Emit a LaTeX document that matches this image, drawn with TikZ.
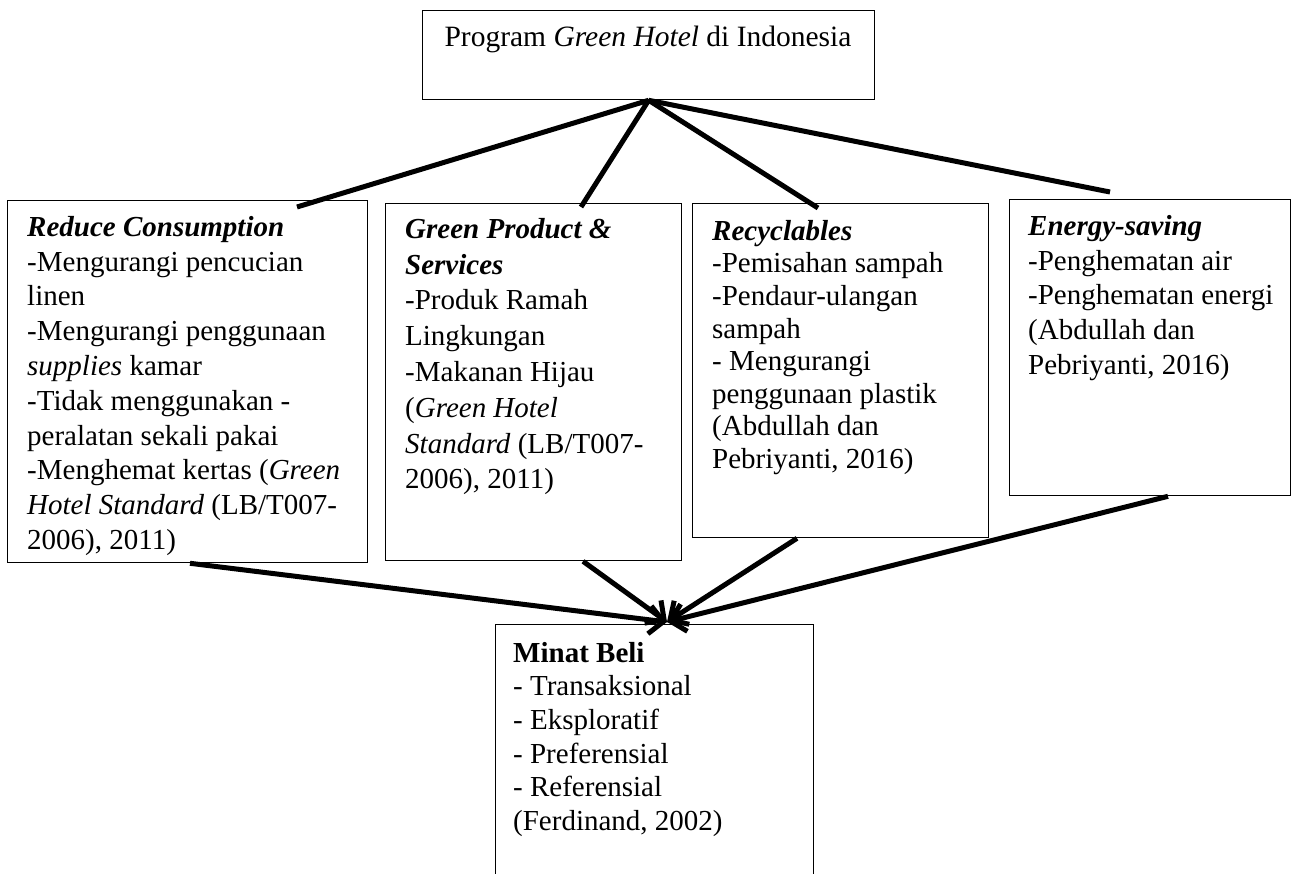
\documentclass[tikz,border=0pt]{standalone}
\usepackage{fontspec}
\setmainfont{Liberation Serif}
\usetikzlibrary{arrows.meta,calc}
\begin{document}
\begin{tikzpicture}[x=1pt,y=-1pt,
  box/.style={draw, line width=1.3pt, rectangle, inner sep=0pt, anchor=north west},
  txt/.style={anchor=north west, inner sep=0pt, align=left, font=\fontsize{29}{34.8}\selectfont},
  conn/.style={line width=5pt},
  arr/.style={line width=5pt, -{Straight Barb[length=14pt,width=28pt]}}]
\useasboundingbox (0,0) rectangle (1294,874);
\clip (0,0) rectangle (1294,874);

% boxes
\node[box, minimum width=452pt, minimum height=89pt] (top) at (422,10) {};
\node[box, minimum width=360pt, minimum height=362pt] (b1) at (7,200) {};
\node[box, minimum width=296pt, minimum height=357pt] (b2) at (385,203) {};
\node[box, minimum width=296pt, minimum height=334pt] (b3) at (692,203) {};
\node[box, minimum width=281pt, minimum height=296pt] (b4) at (1009,199) {};
\node[box, minimum width=318pt, minimum height=262pt] (bot) at (495,624) {};

% texts
\node[anchor=base, inner sep=0pt, font=\fontsize{29.5}{34.8}\selectfont] (toptxt) at (648,47) {Program \textit{Green Hotel} di Indonesia};

\node[txt] (t1) at (27,216) {\textbf{\textit{Reduce Consumption}}\\
-Mengurangi pencucian\\
linen\\
-Mengurangi penggunaan\\
\textit{supplies} kamar\\
-Tidak menggunakan -\\
peralatan sekali pakai\\
-Menghemat kertas (\textit{Green}\\
\textit{Hotel Standard} (LB/T007-\\
2006), 2011)};

\node[txt, font=\fontsize{29}{35.8}\selectfont] (t2) at (405,218) {\textbf{\textit{Green Product \&}}\\
\textbf{\textit{Services}}\\
-Produk Ramah\\
Lingkungan\\
-Makanan Hijau\\
(\textit{Green Hotel}\\
\textit{Standard} (LB/T007-\\
2006), 2011)};

\node[txt, font=\fontsize{29}{32.6}\selectfont] (t3) at (712,220) {\textbf{\textit{Recyclables}}\\
-Pemisahan sampah\\
-Pendaur-ulangan\\
sampah\\
- Mengurangi\\
penggunaan plastik\\
(Abdullah dan\\
Pebriyanti, 2016)};

\node[txt] (t4) at (1028,215) {\textbf{\textit{Energy-saving}}\\
-Penghematan air\\
-Penghematan energi\\
(Abdullah dan\\
Pebriyanti, 2016)};

\node[txt, font=\fontsize{29}{33.6}\selectfont] (t5) at (513,642) {\textbf{Minat Beli}\\
- Transaksional\\
- Eksploratif\\
- Preferensial\\
- Referensial\\
(Ferdinand, 2002)};

% connectors from top
\coordinate (e1) at (297,207);
\coordinate (e2) at (581,207);
\coordinate (e3) at (818,208);
\coordinate (e4) at (1110,192);
\draw[conn] (top.south) -- (e1);
\draw[conn] (top.south) -- (e2);
\draw[conn] (top.south) -- (e3);
\draw[conn] (top.south) -- (e4);

% arrows to bottom
\coordinate (tip) at (667,622);
\draw[arr] ([xshift=183pt]b1.south west) -- (tip);
\draw[arr] ([xshift=198pt]b2.south west) -- (tip);
\draw[arr] ([xshift=105pt]b3.south west) -- (tip);
\draw[arr] ([xshift=159pt]b4.south west) -- (tip);
\end{tikzpicture}
\end{document}
